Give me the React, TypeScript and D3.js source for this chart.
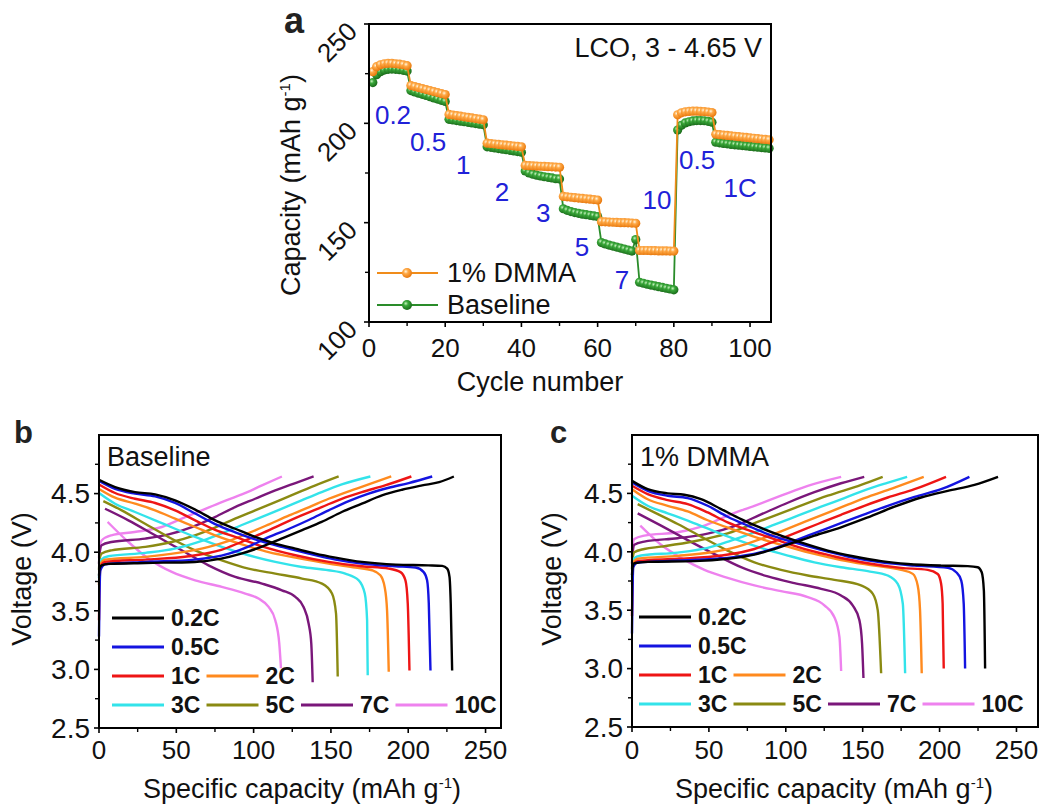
import React from 'react';
import * as d3 from 'd3';

const FONT = '"Liberation Sans", Arial, Helvetica, sans-serif';

// ---------- Panel a data ----------
const cycleNumbers = d3.range(1, 106);
const dmmaCapacity = [
  226, 228.5, 229.5, 230, 230.2, 230.2, 230, 229.8, 229.5, 229,
  219, 218.5, 218, 217.5, 217, 216.5, 216, 215.5, 215, 214.5,
  204.5, 204.2, 203.9, 203.6, 203.3, 203, 202.7, 202.4, 202.1, 201.8,
  190, 189.8, 189.6, 189.4, 189.2, 189, 188.8, 188.6, 188.4, 188.2,
  178.8, 178.7, 178.6, 178.5, 178.4, 178.3, 178.2, 178.1, 178, 177.9,
  163.2, 163, 162.8, 162.6, 162.4, 162.2, 162, 161.8, 161.6, 161.4,
  150.5, 150.4, 150.3, 150.2, 150.1, 150, 150, 149.9, 149.8, 149.7,
  136, 136, 136, 135.9, 135.9, 135.8, 135.8, 135.8, 135.7, 135.7,
  204.3, 205.3, 205.8, 206, 206.1, 206.1, 206, 205.9, 205.7, 205.4,
  194.5, 194.3, 194.1, 193.9, 193.7, 193.5, 193.3, 193.1, 192.9, 192.7, 192.5, 192.3, 192.1, 191.9, 191.7,
];
const baselineCapacity = [
  220.5, 224.5, 226, 226.8, 227.2, 227.3, 227.2, 227, 226.7, 226.3,
  216.5, 215.8, 215.2, 214.6, 214, 213.4, 212.8, 212.2, 211.6, 211,
  202, 201.7, 201.4, 201.1, 200.8, 200.5, 200.2, 199.9, 199.6, 199.3,
  188.2, 187.9, 187.6, 187.3, 187, 186.7, 186.4, 186.1, 185.8, 185.5,
  176, 175, 174.4, 173.9, 173.5, 173.1, 172.8, 172.5, 172.1, 172,
  157, 156.2, 155.6, 155.1, 154.7, 154.3, 154, 153.7, 153.4, 153.1,
  140, 139.3, 138.7, 138.2, 137.7, 137.2, 136.7, 136.2, 135.7, 141.5,
  120, 119.5, 119, 118.6, 118.2, 117.8, 117.4, 117, 116.6, 116.2,
  196.6, 199, 200.2, 200.8, 201.2, 201.4, 201.4, 201.3, 201, 200.6,
  190.5, 190.2, 189.9, 189.7, 189.4, 189.2, 189, 188.8, 188.6, 188.4, 188.2, 188, 187.8, 187.6, 187.4,
];
const rateLabels = ['0.2', '0.5', '1', '2', '3', '5', '7', '10', '0.5', '1C'];
const rateLabelCycle = [6.3, 15.5, 24.7, 34.9, 45.7, 55.9, 66.4, 75.6, 86.1, 97.4];
const rateLabelCapacity = [204.2, 190.6, 179, 165.4, 154.9, 137.8, 121.1, 161.4, 181.5, 167.4];
const seriesNamesA = ['1% DMMA', 'Baseline'];
const xTicksA = [0, 20, 40, 60, 80, 100];
const xMinorA = [10, 30, 50, 70, 90];
const yTicksA = [100, 150, 200, 250];
const yMinorA = [125, 175, 225];

// ---------- Panels b, c data ----------
const rates = ['0.2C', '0.5C', '1C', '2C', '3C', '5C', '7C', '10C'];
const rateColors = ['#000000', '#1414e0', '#ee1515', '#ff8a1e', '#33e3ea', '#8a8a12', '#7a177a', '#ee82ee'];
const xTicksBC = [0, 50, 100, 150, 200, 250];
const xMinorBC = [25, 75, 125, 175, 225];
const yTicksBC = [2.5, 3.0, 3.5, 4.0, 4.5];
const yMinorBC = [2.75, 3.25, 3.75, 4.25, 4.75];

const baselineCharge = [
  [[0,3.80],[0.4,3.86],[1.7,3.888],[6,3.90],[30,3.908],[62,3.917],[79,3.945],[92,3.988],[105,4.045],[118,4.116],[131,4.187],[144,4.258],[157,4.343],[170,4.414],[183,4.485],[196,4.533],[209,4.57],[220,4.598],[229.5,4.646]],
  [[0,3.28],[0.3,3.6],[0.9,3.846],[3.9,3.897],[30,3.917],[62,3.937],[84,3.988],[97,4.05],[110,4.13],[123,4.2],[136,4.277],[148.5,4.357],[161.5,4.436],[174.4,4.5],[187.4,4.55],[200.3,4.59],[215.5,4.646]],
  [[0,3.42],[0.3,3.7],[0.9,3.874],[3.9,3.917],[30,3.937],[58,3.965],[79,4.02],[92,4.087],[105,4.158],[118,4.238],[131,4.314],[144,4.385],[157,4.456],[170,4.513],[185,4.57],[202,4.646]],
  [[0,3.72],[0.4,3.85],[1,3.9],[3.9,3.937],[30,3.96],[51,3.994],[71,4.045],[84,4.096],[97,4.164],[110,4.238],[123,4.314],[136,4.385],[148.5,4.456],[161.5,4.52],[174.4,4.578],[189,4.646]],
  [[0,3.78],[0.4,3.88],[1,3.93],[6,3.965],[30,3.994],[49,4.03],[66.5,4.096],[79,4.158],[92,4.23],[105,4.3],[118,4.37],[131,4.442],[144,4.513],[157,4.578],[175.5,4.646]],
  [[0,3.85],[0.5,3.95],[1.7,3.988],[8,4.016],[30,4.045],[47,4.087],[62,4.144],[75,4.21],[88,4.286],[101,4.357],[114,4.428],[127,4.5],[140,4.57],[155,4.646]],
  [[0,3.9],[0.5,4.0],[1.7,4.06],[8,4.087],[30,4.116],[45,4.152],[60,4.215],[75,4.3],[88,4.385],[101,4.456],[114,4.527],[127,4.59],[138.8,4.646]],
  [[0,3.95],[0.5,4.05],[1.7,4.1],[8,4.144],[23,4.172],[40.6,4.215],[53.5,4.286],[66.5,4.357],[79.4,4.428],[92.4,4.493],[105.4,4.57],[118.3,4.646]],
];
const baselineDischarge = [
  [[0,4.618],[10.4,4.556],[23.3,4.513],[36.3,4.493],[49.2,4.442],[62.2,4.363],[75.1,4.272],[88.1,4.2],[101,4.13],[114,4.073],[127,4.03],[140,3.988],[153,3.954],[170,3.917],[192,3.894],[213,3.888],[222,3.883],[225.2,3.86],[226.7,3.79],[227.5,3.56],[228.4,2.99]],
  [[0,4.607],[10.4,4.54],[23.3,4.5],[36.3,4.476],[49.2,4.42],[62.2,4.33],[75.1,4.24],[88.1,4.17],[101,4.11],[118.3,4.045],[135.6,3.988],[153,3.937],[170,3.903],[191.7,3.88],[204.7,3.869],[210,3.83],[212.2,3.76],[213.3,3.56],[214.4,2.99]],
  [[0,4.578],[10.4,4.505],[23.3,4.456],[36.3,4.42],[49.2,4.357],[62.2,4.272],[75.1,4.19],[88.1,4.13],[105.4,4.05],[127,3.974],[148.5,3.917],[170,3.88],[187.4,3.86],[195,3.83],[198.2,3.76],[199.7,3.56],[200.8,2.99]],
  [[0,4.54],[10.4,4.465],[23.3,4.414],[36.3,4.357],[49.2,4.286],[62.2,4.215],[75.1,4.144],[92.4,4.067],[109.7,4.0],[127,3.954],[148.5,3.903],[165.8,3.869],[176.6,3.846],[182,3.803],[184.8,3.7],[186.3,3.505],[187.4,2.98]],
  [[0,4.505],[10.4,4.414],[23.3,4.343],[36.3,4.272],[49.2,4.2],[62.2,4.13],[79.4,4.045],[96.7,3.974],[114,3.917],[131.3,3.874],[148.5,3.846],[159.3,3.817],[168,3.76],[171.9,3.647],[173.4,3.42],[173.8,2.95]],
  [[2.8,4.436],[14.7,4.357],[29.8,4.243],[44.9,4.13],[62.2,4.016],[79.4,3.931],[96.7,3.86],[114,3.817],[131.3,3.775],[144.2,3.732],[150.7,3.647],[153.3,3.477],[154.4,2.94]],
  [[3.9,4.371],[19,4.272],[36.3,4.144],[53.5,4.016],[70.8,3.888],[88.1,3.789],[105.4,3.732],[118.3,3.675],[127,3.619],[132.3,3.533],[135.6,3.39],[137.3,3.22],[138.2,2.89]],
  [[5.6,4.258],[19,4.087],[32,3.945],[47.1,3.832],[62.2,3.76],[79.4,3.704],[94.6,3.647],[103.2,3.604],[109.7,3.533],[114,3.42],[116.6,3.22],[117.7,3.01]],
];
const dmmaCharge = [
  [[0,3.80],[0.4,3.868],[1.5,3.902],[10.2,3.914],[40.6,3.92],[62.2,3.94],[79.6,3.976],[92.6,4.024],[105.6,4.08],[118.6,4.138],[135.9,4.21],[153.3,4.295],[170.7,4.386],[188,4.465],[205.3,4.522],[222.7,4.573],[238,4.642]],
  [[0,3.30],[0.3,3.6],[0.8,3.868],[3.7,3.908],[29.7,3.925],[62.2,3.948],[83.9,3.996],[99.1,4.06],[114.3,4.138],[131.6,4.224],[148.9,4.31],[166.3,4.394],[183.7,4.47],[201,4.536],[219.4,4.642]],
  [[0,3.45],[0.3,3.7],[0.8,3.882],[3.7,3.92],[29.7,3.94],[57.9,3.968],[79.6,4.024],[92.6,4.09],[105.6,4.158],[120.8,4.238],[135.9,4.317],[151.1,4.394],[166.3,4.465],[183.7,4.536],[204.2,4.642]],
  [[0,3.72],[0.4,3.85],[0.8,3.91],[3.7,3.94],[29.7,3.965],[51.4,3.996],[68.8,4.044],[83.9,4.11],[96.9,4.175],[109.8,4.243],[125,4.323],[140.3,4.403],[155.5,4.48],[170.7,4.55],[189.7,4.642]],
  [[0,3.78],[0.4,3.88],[0.8,3.94],[5.9,3.968],[29.7,3.993],[49.2,4.033],[64.4,4.096],[79.6,4.167],[92.6,4.232],[107.8,4.309],[123,4.386],[138.1,4.46],[153.3,4.536],[166,4.59],[178.9,4.642]],
  [[0,3.85],[0.5,3.95],[1.5,3.996],[8,4.024],[18.9,4.044],[40.6,4.09],[62.2,4.158],[83.9,4.266],[105.6,4.374],[127.3,4.48],[149,4.573],[163,4.642]],
  [[0,3.9],[0.5,4.0],[1.5,4.06],[8,4.087],[29.7,4.116],[49.2,4.155],[66.6,4.22],[83.9,4.32],[101.3,4.42],[118.6,4.51],[135.9,4.587],[151,4.642]],
  [[0,3.95],[0.5,4.06],[1.5,4.11],[8,4.138],[29.7,4.167],[47.1,4.224],[62.2,4.31],[79.6,4.394],[96.9,4.48],[114.3,4.565],[136,4.642]],
];
const dmmaDischarge = [
  [[0,4.607],[10.2,4.536],[23.2,4.5],[34,4.488],[44.9,4.45],[57.9,4.366],[70.9,4.28],[83.9,4.204],[96.9,4.138],[109.8,4.08],[127.3,4.01],[144.6,3.96],[162,3.92],[179.3,3.896],[201,3.882],[218.3,3.877],[224.8,3.868],[227.4,3.825],[228.8,3.669],[229.6,3.0]],
  [[0,4.593],[10.2,4.522],[23.2,4.48],[36.2,4.46],[49.2,4.394],[62.2,4.3],[75.2,4.224],[88.3,4.152],[105.6,4.08],[122.9,4.016],[140.3,3.96],[162,3.91],[183.7,3.882],[205.4,3.862],[210.8,3.825],[214.1,3.754],[215.7,3.555],[216.6,3.0]],
  [[0,4.565],[10.2,4.494],[23.2,4.443],[36.2,4.408],[49.2,4.337],[62.2,4.252],[79.6,4.167],[96.9,4.09],[114.3,4.016],[131.6,3.96],[153.3,3.902],[175,3.862],[192.3,3.845],[198.8,3.81],[201,3.726],[202,3.555],[202.7,3.0]],
  [[0,4.536],[10.2,4.45],[23.2,4.394],[36.2,4.346],[49.2,4.27],[66.6,4.187],[83.9,4.11],[101.3,4.044],[118.6,3.982],[135.9,3.93],[157.6,3.882],[175,3.845],[182.6,3.811],[185.8,3.71],[187.3,3.5],[188.4,2.96]],
  [[0,4.48],[10.2,4.394],[23.2,4.33],[36.2,4.266],[51.4,4.187],[66.6,4.11],[83.9,4.033],[101.3,3.968],[118.6,3.91],[135.9,3.868],[153.3,3.834],[166.3,3.797],[172.8,3.726],[176.1,3.555],[177.6,2.96]],
  [[3.7,4.408],[14.5,4.337],[29.7,4.238],[44.9,4.13],[62.2,4.01],[79.6,3.91],[96.9,3.845],[114.3,3.797],[131.6,3.76],[148.9,3.712],[156.6,3.64],[159.8,3.498],[162,2.96]],
  [[3.7,4.329],[18.9,4.224],[36.2,4.1],[53.6,3.98],[70.9,3.868],[88.3,3.789],[105.6,3.732],[123,3.683],[135.9,3.626],[143.5,3.541],[147.9,3.413],[149.6,3.214],[150.5,2.92]],
  [[5.4,4.224],[18.9,4.06],[31.9,3.948],[47.1,3.845],[62.2,3.777],[79.6,3.712],[96.9,3.663],[114.3,3.612],[125.1,3.541],[131.6,3.44],[134.9,3.27],[136,2.98]],
];

const TICK_FS = 26;
const YTICK_FS = 28;
const TITLE_FS = 27;

type Lin = d3.ScaleLinear<number, number>;

function Frame({ x, y }: { x: Lin; y: Lin }) {
  const [x0, x1] = x.range();
  const [y0, y1] = y.range();
  return (
    <rect x={x0} y={y1} width={x1 - x0} height={y0 - y1} fill="none" stroke="#000" strokeWidth={2} />
  );
}

function TicksBottom({ x, y, major, minor, labels, labelY }: any) {
  const yb = y.range()[0];
  return (
    <g>
      {major.map((t: number) => (
        <line key={'M' + t} x1={x(t)} x2={x(t)} y1={yb} y2={yb + 5} stroke="#000" strokeWidth={1.6} />
      ))}
      {minor.map((t: number) => (
        <line key={'m' + t} x1={x(t)} x2={x(t)} y1={yb} y2={yb + 4} stroke="#000" strokeWidth={1.4} />
      ))}
      {labels &&
        major.map((t: number) => (
          <text key={'L' + t} x={x(t)} y={labelY} textAnchor="middle" fontSize={TICK_FS} fill="#111">
            {String(t)}
          </text>
        ))}
    </g>
  );
}

function PanelA() {
  const x = d3.scaleLinear().domain([0, 105.5]).range([369, 771]);
  const y = d3.scaleLinear().domain([100, 250]).range([322, 24]);
  const line = d3
    .line<number>()
    .x((_, i) => x(cycleNumbers[i]))
    .y((d) => y(d));
  const xl = x(0);
  return (
    <g>
      <defs>
        <radialGradient id="sphO" cx="38%" cy="35%" r="65%">
          <stop offset="0%" stopColor="#fff6e0" />
          <stop offset="35%" stopColor="#ffaa48" />
          <stop offset="100%" stopColor="#e8780c" />
        </radialGradient>
        <radialGradient id="sphG" cx="38%" cy="35%" r="65%">
          <stop offset="0%" stopColor="#c8f2c0" />
          <stop offset="35%" stopColor="#3aa83a" />
          <stop offset="100%" stopColor="#1a6c1a" />
        </radialGradient>
      </defs>
      <text x={284} y={33} fontSize={36} fontWeight="bold" fill="#222">a</text>
      <path d={line(baselineCapacity) || ''} fill="none" stroke="#2a8c2a" strokeWidth={1.8} />
      {baselineCapacity.map((v, i) => (
        <circle key={'g' + i} cx={x(cycleNumbers[i])} cy={y(v)} r={4.6} fill="url(#sphG)" />
      ))}
      <path d={line(dmmaCapacity) || ''} fill="none" stroke="#f08c1a" strokeWidth={1.8} />
      {dmmaCapacity.map((v, i) => (
        <circle key={'o' + i} cx={x(cycleNumbers[i])} cy={y(v)} r={4.6} fill="url(#sphO)" />
      ))}
      <Frame x={x} y={y} />
      <TicksBottom x={x} y={y} major={xTicksA} minor={xMinorA} labels labelY={357} />
      {yTicksA.map((t) => (
        <line key={'yM' + t} x1={xl} x2={xl - 5} y1={y(t)} y2={y(t)} stroke="#000" strokeWidth={1.6} />
      ))}
      {yMinorA.map((t) => (
        <line key={'ym' + t} x1={xl} x2={xl - 4} y1={y(t)} y2={y(t)} stroke="#000" strokeWidth={1.4} />
      ))}
      {yTicksA.map((t) => (
        <text
          key={'yl' + t}
          transform={`translate(337,${y(t) + 18}) rotate(-45)`}
          textAnchor="middle"
          dy="0.35em"
          fontSize={TICK_FS}
          fill="#111"
        >
          {String(t)}
        </text>
      ))}
      <text x={540} y={391} textAnchor="middle" fontSize={TITLE_FS} fill="#111">
        Cycle number
      </text>
      <text transform="translate(291,185) rotate(-90)" textAnchor="middle" dy="0.35em" fontSize={TITLE_FS} fill="#111">
        Capacity (mAh g
        <tspan dy={-10} fontSize={15}>-1</tspan>
        <tspan dy={10}>)</tspan>
      </text>
      <text x={762} y={57} textAnchor="end" fontSize={27} fill="#111">LCO, 3 - 4.65 V</text>
      {rateLabels.map((t, i) => (
        <text
          key={'r' + i}
          x={x(rateLabelCycle[i])}
          y={y(rateLabelCapacity[i])}
          dy="0.35em"
          textAnchor="middle"
          fontSize={26}
          fill="#2121d8"
        >
          {t}
        </text>
      ))}
      {seriesNamesA.map((name, i) => {
        const ly = [273, 305][i];
        const col = ['#f08c1a', '#2a8c2a'][i];
        const fill = ['url(#sphO)', 'url(#sphG)'][i];
        return (
          <g key={name}>
            <line x1={377} x2={438} y1={ly} y2={ly} stroke={col} strokeWidth={2} />
            <circle cx={407} cy={ly} r={5} fill={fill} />
            <text x={447} y={ly} dy="0.35em" fontSize={27} fill="#111">{name}</text>
          </g>
        );
      })}
    </g>
  );
}

function PanelBC({ letter, letterX, x, y, charge, discharge, label, yLabelX, yTitleX, xTitleX, legendX0, legendRows }: any) {
  const line = d3
    .line<number[]>()
    .x((d) => x(d[0]))
    .y((d) => y(d[1]))
    .curve(d3.curveMonotoneX);
  const xl = x.range()[0];
  const order = d3.range(rates.length).reverse();
  const legendLayout = [
    [0, 0], [1, 0], [2, 0], [2, 1], [3, 0], [3, 1], [3, 2], [3, 3],
  ];
  const colStep = 94.5;
  return (
    <g>
      <text x={letterX} y={443} fontSize={31} fontWeight="bold" fill="#222">{letter}</text>
      {order.map((i) => (
        <g key={'c' + i}>
          <path d={line(discharge[i]) || ''} fill="none" stroke={rateColors[i]} strokeWidth={2.4} />
          <path d={line(charge[i]) || ''} fill="none" stroke={rateColors[i]} strokeWidth={2.4} />
        </g>
      ))}
      <Frame x={x} y={y} />
      <TicksBottom x={x} y={y} major={xTicksBC} minor={xMinorBC} labels labelY={759} />
      {yTicksBC.map((t) => (
        <line key={'yM' + t} x1={xl} x2={xl - 5} y1={y(t)} y2={y(t)} stroke="#000" strokeWidth={1.6} />
      ))}
      {yMinorBC.map((t) => (
        <line key={'ym' + t} x1={xl} x2={xl - 4} y1={y(t)} y2={y(t)} stroke="#000" strokeWidth={1.4} />
      ))}
      {yTicksBC.map((t) => (
        <text key={'yl' + t} x={yLabelX} y={y(t)} dy="0.35em" textAnchor="end" fontSize={YTICK_FS} fill="#111">
          {t.toFixed(1)}
        </text>
      ))}
      <text x={xTitleX} y={798} textAnchor="middle" fontSize={TITLE_FS} fill="#111">
        Specific capacity (mAh g
        <tspan dy={-10} fontSize={15}>-1</tspan>
        <tspan dy={10}>)</tspan>
      </text>
      <text
        transform={`translate(${yTitleX},579) rotate(-90)`}
        textAnchor="middle"
        dy="0.35em"
        fontSize={TITLE_FS}
        fill="#111"
      >
        Voltage (V)
      </text>
      <text x={xl + 8} y={457} dy="0.35em" fontSize={27} fill="#111">{label}</text>
      {rates.map((r, i) => {
        const [row, col] = legendLayout[i];
        const lx = legendX0 + col * colStep;
        const ly = legendRows[row];
        return (
          <g key={'lg' + r}>
            <line x1={lx} x2={lx + 52} y1={ly} y2={ly} stroke={rateColors[i]} strokeWidth={3} />
            <text x={lx + 59} y={ly} dy="0.36em" fontSize={23} fontWeight="bold" fill="#111">{r}</text>
          </g>
        );
      })}
    </g>
  );
}

export default function App() {
  const xB = d3.scaleLinear().domain([0, 260]).range([99, 501]);
  const yB = d3.scaleLinear().domain([2.5, 5.0]).range([728, 435]);
  const xC = d3.scaleLinear().domain([0, 264]).range([632, 1038]);
  const yC = d3.scaleLinear().domain([2.5, 5.0]).range([727, 435]);
  return (
    <svg
      width={1042}
      height={809}
      style={{ position: 'absolute', left: 0, top: 0, background: '#fff' }}
      fontFamily={FONT}
    >
      <rect x={0} y={0} width={1042} height={809} fill="#fff" />
      <PanelA />
      <PanelBC
        letter="b"
        letterX={14}
        x={xB}
        y={yB}
        charge={baselineCharge}
        discharge={baselineDischarge}
        label="Baseline"
        yLabelX={90}
        yTitleX={22}
        xTitleX={302}
        legendX0={112}
        legendRows={[618, 647, 676, 705]}
      />
      <PanelBC
        letter="c"
        letterX={550}
        x={xC}
        y={yC}
        charge={dmmaCharge}
        discharge={dmmaDischarge}
        label="1% DMMA"
        yLabelX={623}
        yTitleX={552}
        xTitleX={834}
        legendX0={639}
        legendRows={[617, 646, 675, 704]}
      />
    </svg>
  );
}
